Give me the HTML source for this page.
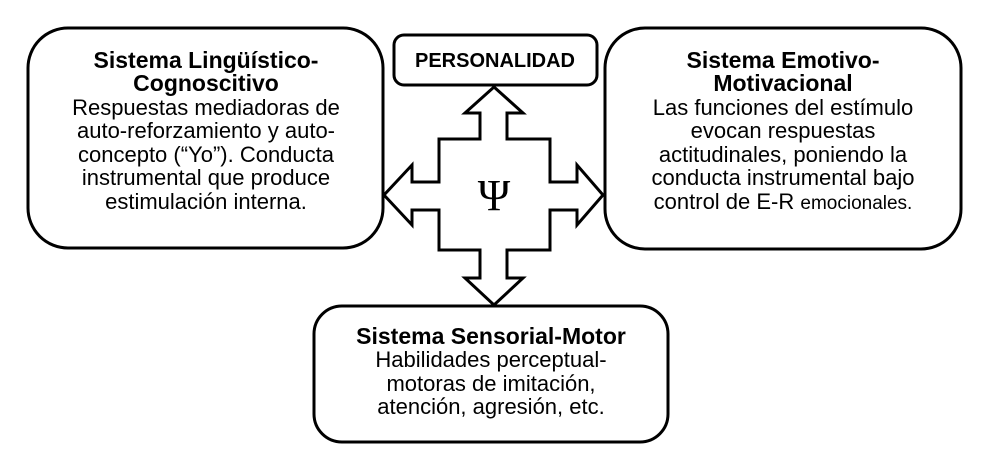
<!DOCTYPE html>
<html><head><meta charset="utf-8"><style>
html,body{margin:0;padding:0;background:#fff;}
svg text{font-family:"Liberation Sans",Arial,sans-serif;font-size:22px;fill:#000;}
.b{font-weight:bold;font-size:23px;}
</style></head><body>
<svg width="987" height="461" viewBox="0 0 987 461" xmlns="http://www.w3.org/2000/svg">
<g fill="#fff" stroke="#000" stroke-width="3">
<rect x="28" y="28" width="355" height="220" rx="40"/>
<rect x="605" y="28" width="356" height="221" rx="40"/>
<rect x="314" y="306" width="354" height="136" rx="28"/>
<rect x="394" y="35" width="203" height="50" rx="10"/>
<polygon stroke-linejoin="miter" points="494,87 523,113 507,113 507,139 550,139 550,182 577,182 577,165 603,195 577,225 577,210 550,210 550,250 507,250 507,278 523,278 494,305 465,278 480,278 480,250 439,250 439,210 412,210 412,225 384,195 412,165 412,182 439,182 439,139 480,139 480,113 465,113"/>
</g>
<text x="495" y="67" text-anchor="middle" class="b" style="font-size:20px">PERSONALIDAD</text>
<text x="494" y="210" text-anchor="middle" style="font-family:'Liberation Serif',serif;font-size:44px">Ψ</text>
<g text-anchor="middle">
<text x="206" y="68" class="b">Sistema Lingüístico-</text>
<text x="206" y="91" class="b">Cognoscitivo</text>
<text x="206" y="115">Respuestas mediadoras de</text>
<text x="206" y="138">auto-reforzamiento y auto-</text>
<text x="206" y="162">concepto (“Yo”). Conducta</text>
<text x="206" y="185">instrumental que produce</text>
<text x="206" y="209">estimulación interna.</text>

<text x="783" y="68" class="b">Sistema Emotivo-</text>
<text x="783" y="91" class="b">Motivacional</text>
<text x="783" y="115">Las funciones del estímulo</text>
<text x="783" y="138">evocan respuestas</text>
<text x="783" y="162">actitudinales, poniendo la</text>
<text x="783" y="185">conducta instrumental bajo</text>
<text x="783" y="209">control de E-R <tspan style="font-size:19px">emocionales.</tspan></text>

<text x="491" y="344" class="b">Sistema Sensorial-Motor</text>
<text x="491" y="367">Habilidades perceptual-</text>
<text x="491" y="391">motoras de imitación,</text>
<text x="491" y="414">atención, agresión, etc.</text>
</g>
</svg>
</body></html>
